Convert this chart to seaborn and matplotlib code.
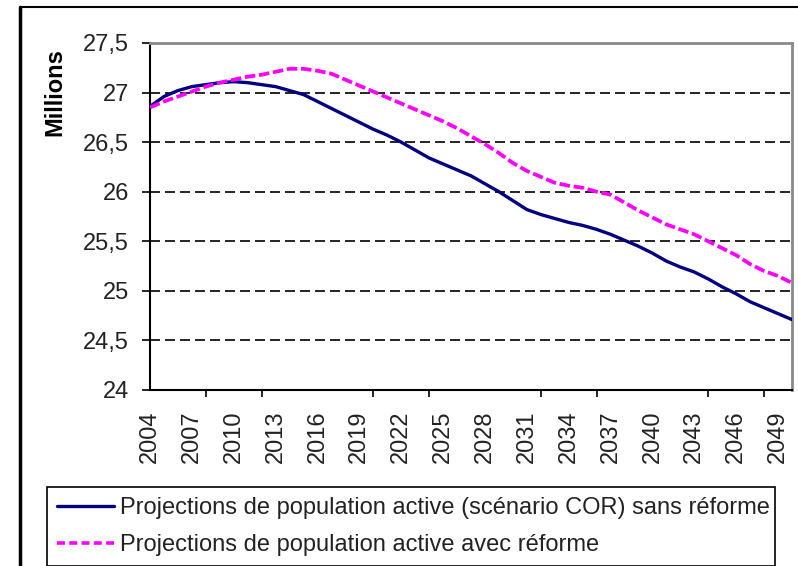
"""
Projections de population active, avec et sans réforme (2004-2050)
"""

import numpy as np
import pandas as pd
import matplotlib
matplotlib.use('Agg')
import matplotlib.pyplot as plt
from matplotlib.lines import Line2D
import seaborn as sns

# Data (millions)
years = list(range(2004, 2051))
sans_reforme = [
    26.86, 26.96, 27.02, 27.06, 27.08, 27.10, 27.11, 27.10, 27.08, 27.06,
    27.02, 26.98, 26.91, 26.84, 26.77, 26.70, 26.63, 26.57, 26.50, 26.42,
    26.34, 26.28, 26.22, 26.16, 26.08, 26.00, 25.91, 25.82, 25.77, 25.73,
    25.69, 25.66, 25.62, 25.57, 25.51, 25.45, 25.38, 25.30, 25.24, 25.19,
    25.12, 25.04, 24.97, 24.89, 24.83, 24.77, 24.71,
]
avec_reforme = [
    26.85, 26.91, 26.96, 27.01, 27.06, 27.10, 27.13, 27.16, 27.18, 27.21,
    27.24, 27.24, 27.22, 27.19, 27.13, 27.07, 27.01, 26.95, 26.89, 26.83,
    26.77, 26.71, 26.64, 26.56, 26.48, 26.39, 26.29, 26.21, 26.15, 26.09,
    26.06, 26.04, 26.00, 25.97, 25.89, 25.81, 25.74, 25.67, 25.62, 25.57,
    25.50, 25.43, 25.36, 25.27, 25.20, 25.15, 25.08,
]
label_sans = "Projections de population active (scénario COR) sans réforme"
label_avec = "Projections de population active avec réforme"

ytick_values = [24, 24.5, 25, 25.5, 26, 26.5, 27, 27.5]
ytick_labels = ["24", "24,5", "25", "25,5", "26", "26,5", "27", "27,5"]
xtick_years = list(range(2004, 2050, 3))

df = pd.DataFrame({'annee': years, 'sans': sans_reforme, 'avec': avec_reforme})

sns.set_style('white')
plt.rcParams['font.family'] = ['Liberation Sans', 'DejaVu Sans']
text_color = '#222222'
fs = 17

fig = plt.figure(figsize=(7.98, 5.66), dpi=100)
ax = fig.add_axes([150 / 798, 1 - 390 / 566, (792 - 150) / 798, (390 - 43) / 566])

# dashed horizontal grid
for v in ytick_values[1:-1]:
    ax.axhline(v, color='black', lw=1.2, ls=(0, (6, 3)), zorder=1)

sns.lineplot(data=df, x='annee', y='sans', ax=ax, color='#000080', lw=2.4, zorder=3)
sns.lineplot(data=df, x='annee', y='avec', ax=ax, color='#FF00FF', lw=2.7,
             zorder=3)
ax.lines[-1].set_dashes([2.8, 1.0])

ax.set_xlim(2004, 2050)
ax.set_ylim(24, 27.5)
ax.set_xlabel('')
ax.set_ylabel('')

ax.set_yticks(ytick_values)
ax.set_yticklabels(ytick_labels, fontsize=fs, color=text_color)
ax.tick_params(axis='y', direction='out', length=6, width=1.2, color='black',
               left=True, pad=9)

ax.set_xticks(xtick_years)
ax.set_xticklabels([str(y) for y in xtick_years], rotation=90, fontsize=fs,
                   color=text_color)
ax.set_xticks(list(range(2008, 2050, 4)), minor=True)
ax.tick_params(axis='x', which='major', length=0, pad=15)
ax.tick_params(axis='x', which='minor', direction='out', length=5, width=1.2,
               color='black', bottom=True)

for side in ['left', 'bottom']:
    ax.spines[side].set_color('black')
    ax.spines[side].set_linewidth(1.5)
for side in ['top', 'right']:
    ax.spines[side].set_color('#8a8a8a')
    ax.spines[side].set_linewidth(2)

fig.text(55 / 798, 1 - 92 / 566, 'Millions', rotation=90, fontsize=fs,
         fontweight='bold', ha='center', va='center', color='black')

handles = [
    Line2D([], [], color='#000080', lw=2.4),
    Line2D([], [], color='#FF00FF', lw=2.6, dashes=[2.2, 1.2]),
]
leg = fig.legend(handles, [label_sans, label_avec], loc='upper left',
                 bbox_to_anchor=(46.7 / 798, 1 - 487 / 566, (775 - 46.7) / 798, 0),
                 mode='expand', fontsize=fs, frameon=True, fancybox=False,
                 edgecolor='black', framealpha=1, handlelength=2.45,
                 handletextpad=0.25, labelspacing=0.66, borderpad=0.42,
                 borderaxespad=0)
leg.get_frame().set_linewidth(1.2)
for t in leg.get_texts():
    t.set_color(text_color)

# outer chart frame (cut by the picture edges)
fig.add_artist(Line2D([20 / 798, 20 / 798], [-0.01, 1 - 7 / 566], color='black',
                      lw=2.5, transform=fig.transFigure))
fig.add_artist(Line2D([20 / 798, 1.01], [1 - 7 / 566, 1 - 7 / 566],
                      color='black', lw=1.5, transform=fig.transFigure))

fig.savefig('out.png', dpi=100)
